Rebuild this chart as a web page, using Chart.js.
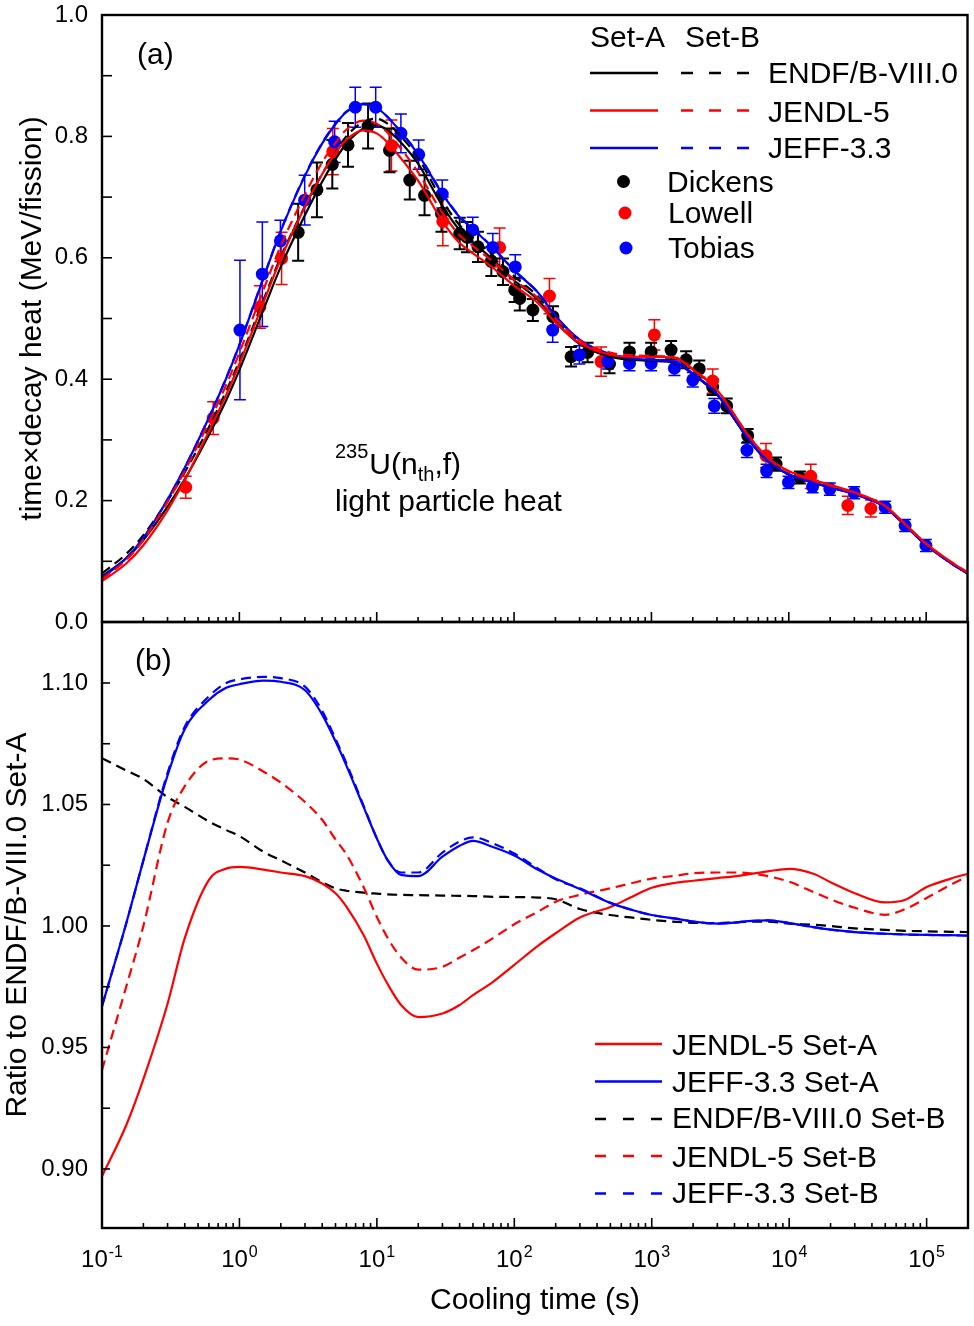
<!DOCTYPE html>
<html><head><meta charset="utf-8">
<script src="https://cdn.jsdelivr.net/npm/chart.js@4.4.1/dist/chart.umd.min.js"></script>
<style>
html,body{margin:0;padding:0;background:#fff;}
#wrap{position:relative;width:974px;height:1326px;background:#fff;}
canvas{position:absolute;left:0;top:0;}
</style></head><body>
<div id="wrap"><canvas id="bot" width="974" height="1326" style="width:974px;height:1326px"></canvas><canvas id="top" width="974" height="1326" style="width:974px;height:1326px"></canvas></div>
<script>
// ---------- data ----------
const T = [0.1,0.15,0.2,0.3,0.4,0.6,0.8,1,1.5,2,3,4,5,6,8,10,12,15,20,30,40,50,70,100,150,200,300,500,700,1000,1500,2000,3000,4000,5000,7000,10000,15000,20000,30000,50000,70000,100000,150000,200000];

const ENDF_A  = [0.075,0.105,0.135,0.19,0.235,0.308,0.365, 0.415,0.515,0.585,0.67,0.725,0.762,0.788,0.813, 0.818,0.81,0.79,0.755,0.686,0.646,0.626,0.597, 0.563,0.53,0.495,0.458,0.437,0.432, 0.43,0.427,0.408,0.375,0.335,0.303,0.265, 0.243,0.23,0.222,0.211,0.19,0.16, 0.127,0.098,0.08];
const ENDF_B  = [0.080,0.112,0.143,0.200,0.2465,0.321,0.380, 0.430,0.531,0.601,0.685,0.738,0.774,0.80,0.824, 0.829,0.821,0.80,0.765,0.6946,0.654,0.6337,0.604, 0.5697,0.536,0.50,0.461,0.439,0.4335, 0.431,0.428,0.4085,0.3755,0.3355,0.3035,0.2655, 0.243,0.23,0.222,0.211,0.19,0.16, 0.127,0.098,0.08];
const JENDL_A = [0.0673,0.0964,0.1265,0.1839,0.2338,0.3139,0.3737, 0.425,0.527,0.598,0.684,0.7377,0.7723,0.7943,0.81, 0.805,0.79,0.764,0.727,0.6606,0.6247,0.6078,0.5836, 0.554,0.525,0.4935,0.4596,0.4403,0.437, 0.4368,0.4347,0.4157,0.3824,0.3419,0.3094,0.271, 0.2487,0.2348,0.226,0.2138,0.1918,0.1618, 0.129,0.0999,0.0817];
const JENDL_B = [0.0706,0.1024,0.135,0.198,0.2485,0.329,0.390, 0.4434,0.5477,0.6195,0.704,0.757,0.789,0.811,0.826, 0.821,0.806,0.78,0.741,0.6745,0.6376,0.6197,0.594, 0.5634,0.533,0.50,0.464,0.4438,0.4396, 0.4384,0.4358,0.4169,0.383,0.342,0.3096,0.2704, 0.2474,0.2332,0.2244,0.2126,0.1909,0.1611, 0.1285,0.0997,0.0816];
const JEFF_A  = [0.0725,0.1051,0.1386,0.2018,0.254,0.3366,0.4008, 0.4563,0.567,0.6438,0.735,0.788,0.820,0.840,0.853, 0.847,0.832,0.807,0.7705,0.7056,0.6673,0.6479,0.6164, 0.5793,0.5422,0.5044,0.4651,0.4412,0.4349, 0.4319,0.4283,0.4087,0.3754,0.3355,0.3036,0.2656, 0.2433,0.2299,0.2217,0.2105,0.1894,0.1594, 0.1265,0.0976,0.0797];
const JEFF_B  = [0.0725,0.1051,0.1386,0.202,0.2543,0.3371,0.4015, 0.4571,0.5678,0.6447,0.736,0.7892,0.8207,0.8408,0.8532, 0.8474,0.8319,0.8074,0.7716,0.7067,0.6685,0.6488,0.6173, 0.5798,0.5425,0.5045,0.4651,0.4412,0.4349, 0.4319,0.4283,0.4087,0.3754,0.3355,0.3036,0.2656, 0.2433,0.2299,0.2217,0.2105,0.1894,0.1594, 0.1265,0.0976,0.0797];

// ratios to ENDF/B-VIII.0 Set-A
const R_JENDL_A = [0.897,0.918,0.937,0.968,0.995,1.019,1.0236, 1.0243,1.0232,1.022,1.0205,1.0175,1.0135,1.008,0.9963, 0.9845,0.976,0.9675,0.9625,0.964,0.9675,0.9715,0.977, 0.984,0.992,0.997,1.0035,1.0078,1.0117, 1.0157,1.0178,1.0186,1.0197,1.0204,1.0212,1.0225, 1.0235,1.0215,1.018,1.0135,1.0097,1.0108, 1.016,1.0195,1.0215];
const R_JEFF_A  = [0.967,1.001,1.027,1.062,1.081,1.093,1.098, 1.0995,1.101,1.1005,1.097,1.087,1.076,1.066,1.049, 1.036,1.027,1.021,1.0205,1.0285,1.033,1.035,1.0325, 1.029,1.023,1.0195,1.0152,1.0095,1.0068, 1.0045,1.003,1.0018,1.001,1.0014,1.002,1.0023, 1.0012,0.9995,0.9985,0.9975,0.9968,0.9965, 0.9963,0.9962,0.996];
const R_ENDF_B  = [1.069,1.064,1.0605,1.053,1.049,1.043,1.0395, 1.037,1.0305,1.027,1.022,1.018,1.0155,1.0145,1.0137, 1.0133,1.013,1.0128,1.0127,1.0125,1.0124,1.0123,1.012, 1.0119,1.0117,1.011,1.007,1.0045,1.0035, 1.0025,1.0017,1.0013,1.0012,1.0015,1.0017,1.0018, 1.001,1.0005,1.0,0.999,0.9984,0.998, 0.9978,0.9976,0.9975];
const R_JENDL_B = [0.9407,0.975,1.0,1.0425,1.0575,1.068,1.069, 1.0685,1.0635,1.059,1.051,1.0437,1.0356,1.0295,1.016, 1.0037,0.995,0.987,0.982,0.9832,0.987,0.990,0.995, 1.0007,1.006,1.010,1.0128,1.0155,1.0175, 1.0195,1.0207,1.0217,1.022,1.022,1.0218,1.0205, 1.0182,1.014,1.011,1.0075,1.0046,1.007, 1.0115,1.017,1.0205];
const R_JEFF_B  = [0.967,1.001,1.027,1.063,1.082,1.0945,1.1, 1.1015,1.1025,1.102,1.0985,1.0885,1.077,1.067,1.0495, 1.036,1.027,1.022,1.022,1.0302,1.0348,1.0365,1.034, 1.0298,1.0235,1.0192,1.0155,1.0095,1.0068, 1.0045,1.003,1.0018,1.001,1.0014,1.002,1.0023, 1.0012,0.9995,0.9985,0.9975,0.9968,0.9965, 0.9963,0.9962,0.996];

// experiments
const DICK_T = [2.68,3.67,4.75,6.18,8.65,12.4,17.4,22.3,29.6,40.2,45.4,54.6,68.3,83,101,110,137,192,260,343,495,692,995,1390,1790,2230,2790,3530,5020,8070,12040];
const DICK_V = [0.642,0.712,0.754,0.786,0.817,0.777,0.728,0.703,0.673,0.640,0.634,0.618,0.594,0.577,0.547,0.533,0.514,0.503,0.437,0.444,0.425,0.445,0.445,0.448,0.432,0.417,0.387,0.356,0.307,0.26,0.238];
const DICK_E = [0.047,0.045,0.04,0.036,0.037,0.036,0.032,0.033,0.03,0.026,0.025,0.025,0.024,0.022,0.02,0.02,0.018,0.017,0.016,0.016,0.015,0.015,0.015,0.015,0.014,0.014,0.013,0.012,0.011,0.011,0.01];
const LOW_T = [0.407,0.645,1.41,2.03,4.79,12.8,30.3,78.5,181,430,1050,2790,6820,14450,26900,39600];
const LOW_V = [0.222,0.336,0.519,0.599,0.775,0.785,0.66,0.617,0.537,0.429,0.473,0.397,0.274,0.24,0.192,0.187];
const LOW_E = [0.018,0.027,0.035,0.043,0.038,0.042,0.04,0.032,0.029,0.024,0.025,0.02,0.02,0.02,0.015,0.014];
const TOB_T = [1.01,1.47,1.99,2.99,4.94,6.98,9.83,15.0,20.2,30,50,70,102,191,299,481,692,995,1470,2000,2870,4960,6890,9950,14900,19900,29900,50300,70300,99600];
const TOB_V = [0.481,0.573,0.628,0.695,0.791,0.848,0.848,0.805,0.770,0.705,0.646,0.617,0.585,0.481,0.44,0.429,0.426,0.426,0.418,0.399,0.356,0.283,0.249,0.230,0.223,0.219,0.213,0.189,0.159,0.126];
const TOB_E = [0.115,0.086,0.034,0.041,0.034,0.033,0.033,0.032,0.024,0.023,0.021,0.023,0.02,0.02,0.015,0.012,0.012,0.012,0.012,0.012,0.012,0.012,0.011,0.01,0.01,0.01,0.01,0.01,0.01,0.01];

// axes
const X_MIN = 0.1, X_MAX = 2e5;
const X_EXP = [-1,0,1,2,3,4,5];
const Y1_TICKS = [0,0.2,0.4,0.6,0.8,1.0];
const Y2_TICKS = [0.90,0.95,1.00,1.05,1.10];
const Y2_MIN = 0.8757, Y2_MAX = 1.1251;

// ---------- style ----------
const FONT = '"Liberation Sans", Arial, Helvetica, sans-serif';
const RED = '#ff0000', BLUE = '#0000ff', BLACK = '#000000';
Chart.defaults.font.family = FONT;
Chart.defaults.color = '#000';
const DASH = [10, 6];

const lineDS = (label, vals, color, dashed) => ({
  label, data: T.map((t, i) => ({x: t, y: vals[i]})),
  borderColor: color, backgroundColor: color, borderWidth: 2.2,
  borderDash: dashed ? DASH : [], pointRadius: 0, fill: false,
  cubicInterpolationMode: 'monotone', showLine: true
});
const ptDS = (label, ts, vs, es, color, ew) => ({
  label, data: ts.map((t, i) => ({x: t, y: vs[i]})), errs: es, errWidth: ew,
  showLine: false, pointRadius: 6.5, pointBackgroundColor: color, pointBorderWidth: 0,
  borderColor: color, backgroundColor: color
});

function frameTicks(yStep, yLen) {
  return {
    id: 'frameTicks',
    afterDraw(chart) {
      const {ctx, chartArea: a, scales} = chart;
      const xs = scales.x, ys = scales.y;
      ctx.save();
      ctx.strokeStyle = '#000';
      ctx.lineWidth = 1.6;
      for (let e = -1; e <= 5; e++) for (let m = 1; m <= 9; m++) {
        const v = m * Math.pow(10, e);
        if (v < X_MIN * 0.999 || v > X_MAX) continue;
        const px = xs.getPixelForValue(v);
        const len = m === 1 ? 10 : 5;
        ctx.beginPath(); ctx.moveTo(px, a.bottom); ctx.lineTo(px, a.bottom - len); ctx.stroke();
      }
      const n0 = Math.ceil(ys.min / yStep - 1e-6), n1 = Math.floor(ys.max / yStep + 1e-6);
      for (let n = n0; n <= n1; n++) {
        const py = ys.getPixelForValue(n * yStep);
        ctx.beginPath(); ctx.moveTo(a.left, py); ctx.lineTo(a.left + yLen, py); ctx.stroke();
      }
      ctx.lineWidth = 2.4;
      ctx.strokeRect(a.left, a.top, a.right - a.left, a.bottom - a.top);
      ctx.restore();
    }
  };
}

const errorBars = {
  id: 'errorBars',
  beforeDatasetsDraw(chart) {
    const {ctx, chartArea: a} = chart;
    const xs = chart.scales.x, ys = chart.scales.y;
    ctx.save();
    ctx.beginPath(); ctx.rect(a.left, a.top, a.right - a.left, a.bottom - a.top); ctx.clip();
    chart.data.datasets.forEach(ds => {
      if (!ds.errs) return;
      ctx.strokeStyle = ds.pointBackgroundColor;
      ctx.lineWidth = ds.errWidth;
      ds.data.forEach((p, j) => {
        const px = xs.getPixelForValue(p.x);
        const y1 = ys.getPixelForValue(p.y - ds.errs[j]);
        const y2 = ys.getPixelForValue(p.y + ds.errs[j]);
        ctx.beginPath();
        ctx.moveTo(px, y1); ctx.lineTo(px, y2);
        ctx.moveTo(px - 6, y1); ctx.lineTo(px + 6, y1);
        ctx.moveTo(px - 6, y2); ctx.lineTo(px + 6, y2);
        ctx.stroke();
      });
    });
    ctx.restore();
  }
};

function seg(ctx, x1, x2, y, color, dash, w) {
  ctx.save(); ctx.strokeStyle = color; ctx.lineWidth = w; ctx.setLineDash(dash);
  ctx.beginPath(); ctx.moveTo(x1, y); ctx.lineTo(x2, y); ctx.stroke(); ctx.restore();
}

const topDecor = {
  id: 'topDecor',
  afterDraw(chart) {
    const ctx = chart.ctx;
    ctx.save();
    ctx.fillStyle = '#000';
    ctx.textBaseline = 'alphabetic';
    ctx.font = `30px ${FONT}`;
    ctx.fillText('(a)', 137, 64);
    // legend header
    ctx.fillText('Set-A', 590, 47);
    ctx.fillText('Set-B', 685, 47);
    const rows = [['ENDF/B-VIII.0', BLACK, 73, 83], ['JENDL-5', RED, 110.5, 122], ['JEFF-3.3', BLUE, 148, 158]];
    rows.forEach(([lab, c, ly, by]) => {
      seg(ctx, 590, 658, ly, c, [], 2.6);
      seg(ctx, 681, 752, ly, c, [12, 16], 2.6);
      ctx.fillStyle = '#000'; ctx.font = `30px ${FONT}`;
      ctx.fillText(lab, 768, by);
    });
    const mk = [['Dickens', BLACK, 623.5, 181.5, 667, 192], ['Lowell', RED, 625, 213, 668, 223], ['Tobias', BLUE, 626, 248, 668, 258]];
    mk.forEach(([lab, c, mx, my, tx, ty]) => {
      ctx.fillStyle = c; ctx.beginPath(); ctx.arc(mx, my, 6.5, 0, Math.PI * 2); ctx.fill();
      ctx.fillStyle = '#000'; ctx.font = `30px ${FONT}`; ctx.fillText(lab, tx, ty);
    });
    // annotation
    ctx.font = `20px ${FONT}`; ctx.fillText('235', 335, 458);
    let x = 335 + ctx.measureText('235').width + 1;
    ctx.font = `30px ${FONT}`; ctx.fillText('U(n', x, 474); x += ctx.measureText('U(n').width;
    ctx.font = `20px ${FONT}`; ctx.fillText('th', x, 481); x += ctx.measureText('th').width;
    ctx.font = `30px ${FONT}`; ctx.fillText(',f)', x, 474);
    ctx.fillText('light particle heat', 335, 511);
    ctx.restore();
  }
};

const botDecor = {
  id: 'botDecor',
  afterDraw(chart) {
    const ctx = chart.ctx, xs = chart.scales.x, a = chart.chartArea;
    ctx.save();
    ctx.fillStyle = '#000';
    ctx.textBaseline = 'alphabetic';
    ctx.font = `30px ${FONT}`;
    ctx.fillText('(b)', 135, 670);
    // x tick labels 10^k
    X_EXP.forEach(k => {
      const px = xs.getPixelForValue(Math.pow(10, k));
      const base = '10', sup = k < 0 ? '-' + (-k) : String(k);
      ctx.font = `24px ${FONT}`; const w1 = ctx.measureText(base).width;
      ctx.font = `16px ${FONT}`; const w2 = ctx.measureText(sup).width;
      const x0 = px - (w1 + w2 + 1) / 2;
      ctx.font = `24px ${FONT}`; ctx.fillText(base, x0, a.bottom + 39);
      ctx.font = `16px ${FONT}`; ctx.fillText(sup, x0 + w1 + 1, a.bottom + 29);
    });
    // legend
    const rows = [['JENDL-5 Set-A', RED, [], 1044, 1055], ['JEFF-3.3 Set-A', BLUE, [], 1081.5, 1092],
                  ['ENDF/B-VIII.0 Set-B', BLACK, [11, 17], 1119, 1128], ['JENDL-5 Set-B', RED, [11, 17], 1156, 1166.5],
                  ['JEFF-3.3 Set-B', BLUE, [11, 17], 1193.5, 1203]];
    rows.forEach(([lab, c, d, ly, by]) => {
      seg(ctx, 595, 662, ly, c, d, 2.6);
      ctx.fillStyle = '#000'; ctx.font = `30px ${FONT}`; ctx.fillText(lab, 672, by);
    });
    ctx.restore();
  }
};

function fixY(s) { s.width = 102; s.paddingTop = 0; s.paddingBottom = 0; }
function fixX(h) { return s => { s.height = h; s.paddingLeft = 0; s.paddingRight = 0; }; }

// ---------- top chart ----------
new Chart(document.getElementById('top'), {
  type: 'line',
  data: { datasets: [
    lineDS('JENDL-5 Set-A', JENDL_A, RED, false),
    lineDS('JENDL-5 Set-B', JENDL_B, RED, true),
    lineDS('JEFF-3.3 Set-A', JEFF_A, BLUE, false),
    lineDS('JEFF-3.3 Set-B', JEFF_B, BLUE, true),
    lineDS('ENDF/B-VIII.0 Set-A', ENDF_A, BLACK, false),
    lineDS('ENDF/B-VIII.0 Set-B', ENDF_B, BLACK, true),
    ptDS('Tobias', TOB_T, TOB_V, TOB_E, BLUE, 1.5),
    ptDS('Lowell', LOW_T, LOW_V, LOW_E, RED, 1.5),
    ptDS('Dickens', DICK_T, DICK_V, DICK_E, BLACK, 2)
  ]},
  options: {
    responsive: false, animation: false, events: [],
    layout: { padding: { left: 0, right: 6, top: 15, bottom: 704 } },
    plugins: { legend: { display: false }, tooltip: { enabled: false } },
    scales: {
      x: { type: 'logarithmic', min: X_MIN, max: X_MAX,
           ticks: { display: false }, grid: { display: false, drawTicks: false }, border: { display: false },
           afterFit: fixX(0) },
      y: { type: 'linear', min: 0, max: 1,
           afterBuildTicks(s) { s.ticks = Y1_TICKS.map(v => ({ value: v })); },
           ticks: { font: { size: 24 }, padding: 14, color: '#000', callback: v => Number(v).toFixed(1) },
           grid: { display: false, drawTicks: false }, border: { display: false },
           title: { display: true, text: 'time×decay heat (MeV/fission)', font: { size: 30 }, color: '#000', padding: { top: 15, bottom: 0 } },
           afterFit: fixY }
    }
  },
  plugins: [errorBars, frameTicks(0.1, 10), topDecor]
});

// ---------- bottom chart ----------
const rds = (label, vals, color, dashed) => lineDS(label, vals, color, dashed);
new Chart(document.getElementById('bot'), {
  type: 'line',
  data: { datasets: [
    rds('JEFF-3.3 Set-B', R_JEFF_B, BLUE, true),
    rds('JEFF-3.3 Set-A', R_JEFF_A, BLUE, false),
    rds('JENDL-5 Set-A', R_JENDL_A, RED, false),
    rds('JENDL-5 Set-B', R_JENDL_B, RED, true),
    rds('ENDF/B-VIII.0 Set-B', R_ENDF_B, BLACK, true)
  ]},
  options: {
    responsive: false, animation: false, events: [],
    layout: { padding: { left: 0, right: 6, top: 622, bottom: 0 } },
    plugins: { legend: { display: false }, tooltip: { enabled: false } },
    scales: {
      x: { type: 'logarithmic', min: X_MIN, max: X_MAX,
           ticks: { display: false }, grid: { display: false, drawTicks: false }, border: { display: false },
           title: { display: true, text: 'Cooling time (s)', font: { size: 30 }, color: '#000', padding: { top: 0, bottom: 7 } },
           afterFit: fixX(98) },
      y: { type: 'linear', min: Y2_MIN, max: Y2_MAX,
           afterBuildTicks(s) { s.ticks = Y2_TICKS.map(v => ({ value: v })); },
           ticks: { font: { size: 24 }, padding: 14, color: '#000', callback: v => Number(v).toFixed(2) },
           grid: { display: false, drawTicks: false }, border: { display: false },
           title: { display: true, text: 'Ratio to ENDF/B-VIII.0 Set-A', font: { size: 30 }, color: '#000', padding: { top: 0, bottom: 0 } },
           afterFit: fixY }
    }
  },
  plugins: [frameTicks(0.025, 8), botDecor]
});
</script>
</body></html>
